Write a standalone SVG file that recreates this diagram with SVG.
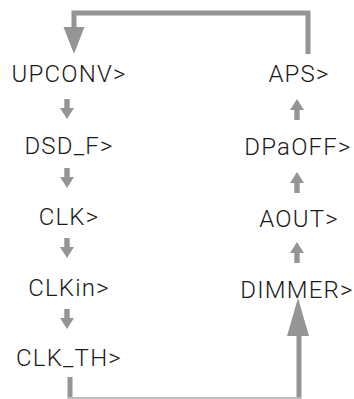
<svg xmlns="http://www.w3.org/2000/svg" xmlns:xlink="http://www.w3.org/1999/xlink" width="354" height="399" viewBox="0 0 354 399">
  <style>
    .lbl { font-family: Roboto, "Liberation Sans", sans-serif; font-weight: 300; font-size: 24px; letter-spacing: 1.2px; fill: #1a1a1a; text-anchor: middle; }
    .ar { fill: #959595; }
    .ln { fill: none; stroke: #959595; stroke-width: 5; }
  </style>
  <defs>
    <path id="down" class="ar" d="M-2.7,0 H2.7 V9 H7 L0,20 L-7,9 H-2.7 Z"/>
    <path id="up" class="ar" d="M-2.7,20 H2.7 V10 H7 L0,-1 L-7,10 H-2.7 Z"/>
  </defs>
  <rect width="354" height="399" fill="#ffffff"/>
  <g id="connectors">
    <path class="ln" d="M308,54 V13 H74 V28"/>
    <path class="ar" d="M63.5,27 H84.5 L74,54 Z"/>
    <path class="ln" d="M70,377 V399"/>
    <path class="ln" d="M299,336 V399"/>
    <line x1="68" y1="398" x2="301" y2="398" stroke="#bdbdbd" stroke-width="2"/>
    <path class="ar" d="M287,336 H309 L298,298 Z"/>
    <use xlink:href="#down" x="67" y="99"/>
    <use xlink:href="#down" x="67" y="168"/>
    <use xlink:href="#down" x="67" y="238"/>
    <use xlink:href="#down" x="67" y="309"/>
    <use xlink:href="#up" x="297" y="100"/>
    <use xlink:href="#up" x="297" y="173"/>
    <use xlink:href="#up" x="297" y="243"/>
  </g>
  <g id="UPCONV"><text class="lbl" x="69" y="82">UPCONV&gt;</text></g>
  <g id="DSD_F"><text class="lbl" x="69" y="154">DSD_F&gt;</text></g>
  <g id="CLK"><text class="lbl" x="69" y="225">CLK&gt;</text></g>
  <g id="CLKin"><text class="lbl" x="69" y="296">CLKin&gt;</text></g>
  <g id="CLK_TH"><text class="lbl" x="69" y="366">CLK_TH&gt;</text></g>
  <g id="APS"><text class="lbl" x="299" y="82">APS&gt;</text></g>
  <g id="DPaOFF"><text class="lbl" x="298" y="155">DPaOFF&gt;</text></g>
  <g id="AOUT"><text class="lbl" x="299" y="227">AOUT&gt;</text></g>
  <g id="DIMMER"><text class="lbl" x="297" y="298">DIMMER&gt;</text></g>
</svg>
